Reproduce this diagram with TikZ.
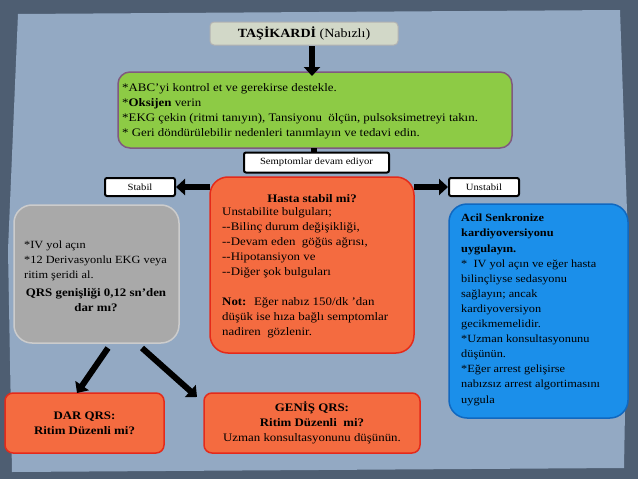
\documentclass[tikz,border=0pt]{standalone}
\usepackage{fontspec}
\setmainfont{Liberation Serif}[FakeStretch=1.12]
\usetikzlibrary{arrows.meta}
\definecolor{frame}{HTML}{4E5E72}
\definecolor{paper}{HTML}{93A9C3}
\definecolor{titlef}{HTML}{D2D8C8}
\definecolor{greenf}{HTML}{8DCB45}
\definecolor{redf}{HTML}{F46B40}
\definecolor{redd}{HTML}{E52A1A}
\definecolor{grayf}{HTML}{A9A9A9}
\definecolor{bluef}{HTML}{1B8FEA}
\definecolor{blued}{HTML}{1068C0}
\begin{document}
\begin{tikzpicture}[x=1pt,y=-1pt,
  box/.style={draw,rounded corners=12pt,line width=1.5pt,inner sep=0pt,outer sep=0pt},
  lbl/.style={draw=black,fill=white,line width=2pt,rounded corners=2pt,font=\fontsize{9.5}{10}\selectfont,inner sep=0pt},
  bigarrow/.style={line width=6pt,-{Triangle[length=9pt,width=16pt]}},
  txt/.style={font=\fontsize{11.5}{15}\selectfont,align=left,anchor=north west,inner sep=0pt}]
\useasboundingbox (0,0) rectangle (638,479);
\fill[frame] (0,0) rectangle (638,479);
\fill[paper] (18,14) -- (620,10) -- (628,240) -- (624,468) -- (12,472) -- (8,250) -- cycle;
% title
\node[box,fill=titlef,draw=gray!60,line width=1pt,rounded corners=4pt,minimum width=188pt,minimum height=23pt,font=\fontsize{12.5}{14}\selectfont] (title) at (304,33.5) {\textbf{TAŞİKARDİ} (Nabızlı)};
% green
\node[box,fill=greenf,draw=gray!70!violet,minimum width=394pt,minimum height=76pt] (green) at (315,110) {};
\node[txt] (gt) at (122,83) {*ABC'yi kontrol et ve gerekirse destekle.\\*\textbf{Oksijen} verin\\*EKG çekin (ritmi tanıyın), Tansiyonu \ ölçün, pulsoksimetreyi takın.\\* Geri döndürülebilir nedenleri tanımlayın ve tedavi edin.};
\coordinate (ta) at (312,46);
\coordinate (tb) at (312,76);
\draw[bigarrow] (ta) -- (tb);
\node[lbl,minimum width=145pt,minimum height=20pt] (semp) at (316.5,162.5) {Semptomlar devam ediyor};
\draw[line width=6pt] (green.south -| semp.north) ++(-3,0) -- ++(0,4);
% red
\node[box,fill=redf,draw=redd,rounded corners=18pt,minimum width=204pt,minimum height=176pt] (red) at (312,265) {};
\node[font=\fontsize{11.5}{12}\selectfont\bfseries] (rh) at (312,199) {Hasta stabil mi?};
\node[txt] (rt) at (222,207) {Unstabilite bulguları;\\{-}{-}Bilinç durum değişikliği,\\{-}{-}Devam eden \ göğüs ağrısı,\\{-}{-}Hipotansiyon ve\\{-}{-}Diğer şok bulguları\\[15pt]\textbf{Not:} \ Eğer nabız 150/dk 'dan\\düşük ise hıza bağlı semptomlar\\nadiren \ gözlenir.};
\node[lbl,minimum width=70pt,minimum height=18pt] (stabil) at (140,187) {Stabil};
\node[lbl,minimum width=70pt,minimum height=18pt] (unst) at (484,187) {Unstabil};
\draw[bigarrow] (red.west |- stabil) -- (stabil.east);
\draw[bigarrow] (red.east |- unst) -- (unst.west);
% gray
\node[box,fill=grayf,draw=gray!40,rounded corners=18pt,minimum width=165pt,minimum height=138pt] (gray) at (96.5,274) {};
\node[txt,font=\fontsize{11}{15}\selectfont] (grt) at (24,241) {*IV yol açın\\*12 Derivasyonlu EKG veya\\ritim şeridi al.};
\node[font=\fontsize{11.5}{15.5}\selectfont\bfseries,align=center] (grb) at (96,300) {QRS genişliği 0,12 sn'den\\dar mı?};
% blue
\node[box,fill=bluef,draw=blued,rounded corners=18pt,minimum width=179pt,minimum height=214pt] (blue) at (538.5,311) {};
\node[txt,font=\fontsize{11}{15.1}\selectfont] (bt) at (461,214) {\textbf{Acil Senkronize}\\\textbf{kardiyoversiyonu}\\\textbf{uygulayın.}\\* \ IV yol açın ve eğer hasta\\bilinçliyse sedasyonu\\sağlayın; ancak\\kardiyoversiyon\\gecikmemelidir.\\*Uzman konsultasyonunu\\düşünün.\\*Eğer arrest gelişirse\\nabızsız arrest algortimasını\\uygula};
% bottom
\node[box,fill=redf,draw=redd,rounded corners=8pt,minimum width=159pt,minimum height=60pt,align=center,font=\fontsize{11.5}{15}\selectfont\bfseries] (dar) at (84.5,423) {DAR QRS:\\Ritim Düzenli mi?};
\node[box,fill=redf,draw=redd,rounded corners=8pt,minimum width=216pt,minimum height=60pt,align=center,font=\fontsize{11.5}{15}\selectfont] (gen) at (312,423) {\textbf{GENİŞ QRS:}\\\textbf{Ritim Düzenli \ mi?}\\Uzman konsultasyonunu düşünün.};
\coordinate (g1) at (108,348);
\coordinate (g2) at (142,348);
\draw[bigarrow] (g1) -- (77,393);
\draw[bigarrow] (g2) -- (197,397);
\end{tikzpicture}
\end{document}
